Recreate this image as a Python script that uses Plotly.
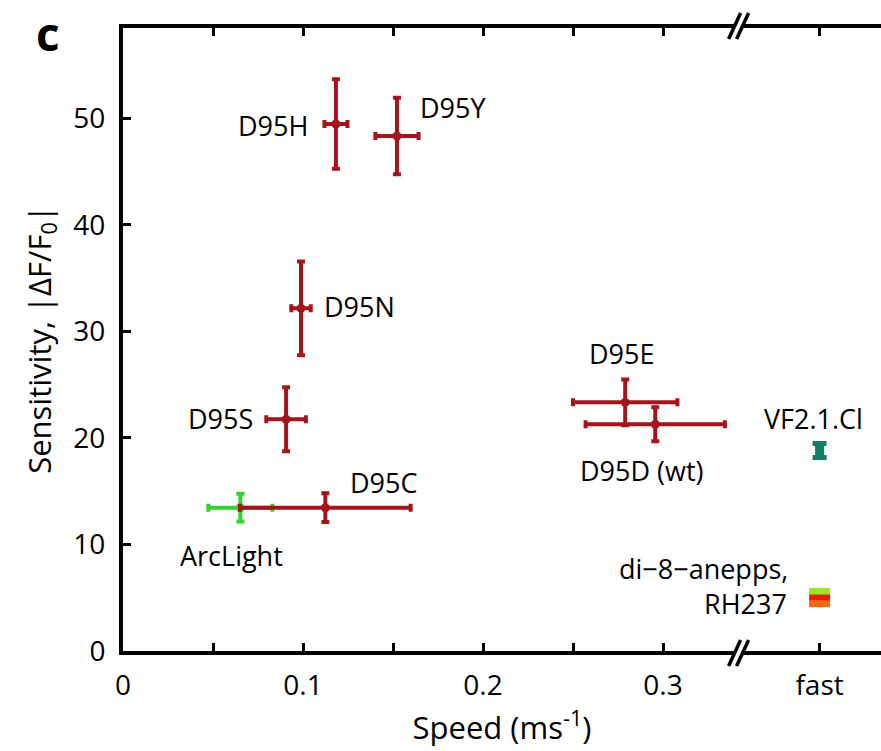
import plotly.graph_objects as go

# ---- data -------------------------------------------------------------
# Archaerhodopsin D95 mutants: speed (1/ms) and sensitivity |dF/F0| (%)
mut_names = ["D95H", "D95Y", "D95N", "D95S", "D95C", "D95E", "D95D (wt)"]
mut_speed = [0.1183, 0.1522, 0.0989, 0.0906, 0.1124, 0.2790, 0.2957]
mut_speed_err = [0.0064, 0.0120, 0.0054, 0.0110, 0.0474, 0.0290, 0.0387]
mut_sens = [49.46, 48.34, 32.17, 21.75, 13.45, 23.34, 21.28]
mut_sens_err = [4.20, 3.60, 4.40, 3.00, 1.35, 2.15, 1.60]

# ArcLight reference sensor
arc_speed = [0.0652]
arc_speed_err = [0.0178]
arc_sens = [13.45]
arc_sens_err = [1.30]

# "fast" probes sit past the axis break
FAST = 0.387
vf_sens = [18.82]
vf_sens_err = [0.66]
dye_sens = [5.58, 4.97, 4.44]
dye_colors = ["#9be81e", "#ee1a10", "#ef6a14"]

# axis ticks
x_tickvals = [0, 0.1, 0.2, 0.3, FAST]
x_ticktext = ["0", "0.1", "0.2", "0.3", "fast"]
x_minor_vals = [0.05, 0.15, 0.25]
y_tickvals = [0, 10, 20, 30, 40, 50]
X_BREAK = 0.342

# text labels: text, x, y, horizontal anchor
labels = [
    ("D95H", 0.1033, 49.37, "right"),
    ("D95Y", 0.1644, 51.06, "left"),
    ("D95N", 0.1111, 32.29, "left"),
    ("D95S", 0.0728, 21.87, "right"),
    ("D95C", 0.1256, 15.77, "left"),
    ("ArcLight", 0.0311, 9.01, "left"),
    ("D95E", 0.2767, 27.97, "center"),
    ("D95D (wt)", 0.2883, 16.90, "center"),
    ("VF2.1.Cl", 0.3556, 21.87, "left"),
    ("di\u22128\u2212anepps,", 0.3700, 7.79, "right"),
    ("RH237", 0.3694, 4.50, "right"),
]

# ---- styling ----------------------------------------------------------
RED = "#a3151b"
GREEN = "#33d52a"
TEAL = "#147d68"
FONT = "Open Sans"

W, H = 881, 751
ML, MR, MT, MB = 123, 0, 28, 100
X_MAX = (W - ML - MR) / 1800.0
Y_MAX = (H - MT - MB) / 10.654

fig = go.Figure()

fig.add_trace(go.Scatter(
    x=arc_speed, y=arc_sens, mode="markers",
    marker=dict(color=GREEN, size=9),
    error_x=dict(type="data", array=arc_speed_err, color=GREEN, thickness=4, width=4),
    error_y=dict(type="data", array=arc_sens_err, color=GREEN, thickness=4, width=4),
    showlegend=False, hoverinfo="skip",
))

fig.add_trace(go.Scatter(
    x=mut_speed, y=mut_sens, mode="markers", text=mut_names,
    marker=dict(color=RED, size=9),
    error_x=dict(type="data", array=mut_speed_err, color=RED, thickness=4, width=4),
    error_y=dict(type="data", array=mut_sens_err, color=RED, thickness=4, width=4),
    showlegend=False,
))

fig.add_trace(go.Scatter(
    x=[FAST], y=vf_sens, mode="markers",
    marker=dict(color=TEAL, size=9, symbol="square"),
    error_y=dict(type="data", array=vf_sens_err, color=TEAL, thickness=5, width=7),
    showlegend=False, hoverinfo="skip",
))

for s, c in zip(dye_sens, dye_colors):
    fig.add_trace(go.Scatter(
        x=[FAST], y=[s], mode="markers",
        marker=dict(symbol="line-ew", size=15, line=dict(color=c, width=7)),
        showlegend=False, hoverinfo="skip",
    ))

annotations = []
for text, lx, ly, anchor in labels:
    annotations.append(dict(
        text=text, x=lx, y=ly, xref="x", yref="y", xanchor=anchor,
        yanchor="middle", showarrow=False, borderpad=0,
        font=dict(family=FONT, size=27, color="black"),
    ))

# panel letter
pw, ph = W - ML - MR, H - MT - MB
annotations.append(dict(
    text="<b>c</b>", x=(48 - ML) / pw, y=1 - (33 - MT) / ph,
    xref="paper", yref="paper", xanchor="center", yanchor="middle",
    showarrow=False, font=dict(family=FONT, size=46, color="black"),
))

# axis-break marks on the bottom and top axis lines
shapes = []
for ya, yc in ((0, -2), (1, 2)):
    common = dict(xref="x", yref="paper", xsizemode="pixel", ysizemode="pixel",
                  xanchor=X_BREAK, yanchor=ya, layer="above")
    shapes.append(dict(type="rect", x0=-4, x1=4, y0=yc - 4, y1=yc + 4,
                       fillcolor="white", line=dict(width=0), **common))
    for dx in (-4, 4):
        shapes.append(dict(type="line", x0=dx - 6, x1=dx + 6,
                           y0=yc - 13, y1=yc + 13,
                           line=dict(color="black", width=3.5), **common))

fig.update_layout(
    width=W, height=H,
    margin=dict(l=ML, r=MR, t=MT, b=MB, pad=0),
    paper_bgcolor="white", plot_bgcolor="white",
    font=dict(family=FONT, color="black"),
    annotations=annotations, shapes=shapes,
    xaxis=dict(
        range=[0, X_MAX], tickmode="array", tickvals=x_tickvals, ticktext=x_ticktext,
        showgrid=False, zeroline=False,
        showline=True, linecolor="black", linewidth=4, mirror="ticks",
        ticks="inside", ticklen=8, tickwidth=3, tickcolor="black",
        minor=dict(tickmode="array", tickvals=x_minor_vals, ticks="inside",
                   ticklen=8, tickwidth=3, tickcolor="black", showgrid=False),
        tickfont=dict(family=FONT, size=28), ticklabelstandoff=6,
        title=dict(text="Speed (ms<sup>-1</sup>)", font=dict(family=FONT, size=31),
                   standoff=10),
    ),
    yaxis=dict(
        range=[0, Y_MAX], tickvals=y_tickvals,
        showgrid=False, zeroline=False,
        showline=True, linecolor="black", linewidth=4,
        ticks="inside", ticklen=8, tickwidth=3, tickcolor="black",
        tickfont=dict(family=FONT, size=28), ticklabelstandoff=8,
        title=dict(text="Sensitivity, |\u0394F/F<sub>0</sub>|",
                   font=dict(family=FONT, size=31), standoff=14),
    ),
)

fig.write_html("out.html")
